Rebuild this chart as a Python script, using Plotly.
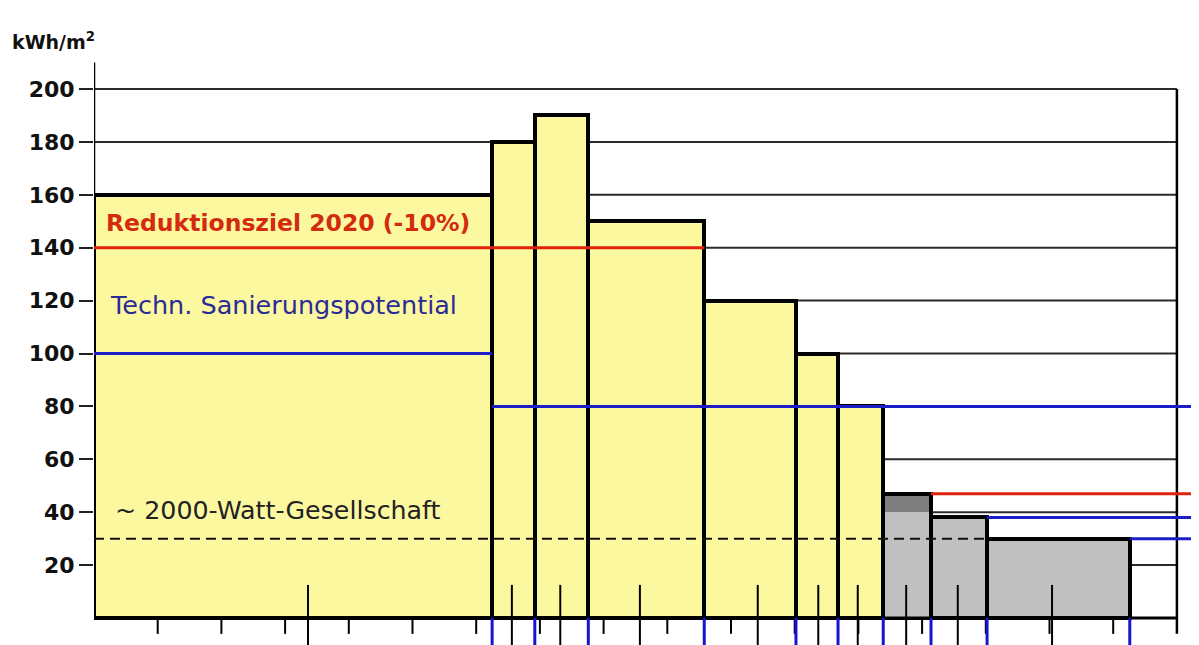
import plotly.graph_objects as go

# ---- data (x in tick units: 10 per small tick interval) ----
bar_edges = [0, 62.5, 69.2, 77.6, 95.8, 110.2, 116.8, 123.9, 131.4, 140.2, 162.6]
bar_values = [160, 180, 190, 150, 120, 100, 80, 47, 38, 30]
bar_colors = ["#FCF8A0"] * 7 + ["#7F7F7F", "#C0C0C0", "#C0C0C0"]
grey_base_value = 40          # light part of the 8th bar
grid_values = [20, 40, 60, 80, 100, 120, 140, 160, 180, 200]
ytick_labels = ["20", "40", "60", "80", "100", "120", "140", "160", "180", "200"]
minor_ticks = [10, 20, 30, 40, 50, 60, 70, 80, 90, 100, 110, 120, 130, 140, 150, 160]
long_ticks = [33.6, 65.6, 73.2, 85.7, 104.2, 113.7, 119.9, 127.5, 135.6, 150.4]
x_end = 170

# target lines: (value, x start, x end)
red_lines = [(140, 0, 95.8), (47, 131.4, None)]
blue_lines = [(100, 0, 62.5), (80, 62.5, None), (38, 140.2, None), (30, 162.6, None)]
dashed_line = (30, 0, 140.2)

labels = [
    ("Reduktionsziel 2020 (-10%)", 1.6, 149.5, "#D42A0E", True, 23.5),
    ("Techn. Sanierungspotential", 2.2, 118.5, "#2B2B95", False, 25.5),
    ("~ 2000-Watt-Gesellschaft", 3.0, 40.5, "#222222", False, 25.3),
]

# ---- geometry (page body has an 8px offset) ----
OFF = 8
PX_PER_X = 6.37
PX_PER_Y = 2.645
L_MARGIN = 94 - OFF
X_MAX = (1199 - L_MARGIN) / PX_PER_X
Y_MAX = 200 + (89 - OFF) / PX_PER_Y
Y_MIN = -(645 - (618 - OFF)) / PX_PER_Y

mids = [(a + b) / 2 for a, b in zip(bar_edges[:-1], bar_edges[1:])]
widths = [b - a for a, b in zip(bar_edges[:-1], bar_edges[1:])]

fig = go.Figure()
fig.add_trace(go.Bar(
    x=mids, y=bar_values, width=widths,
    marker=dict(color=bar_colors, line=dict(color="black", width=4)),
    hoverinfo="skip", showlegend=False))
# light grey lower part of the 8th bar
fig.add_trace(go.Bar(
    x=[mids[7]], y=[grey_base_value], width=[widths[7] - 0.6],
    marker=dict(color="#C0C0C0", line=dict(width=0)),
    hoverinfo="skip", showlegend=False))

shapes = []
for g in grid_values:
    shapes.append(dict(type="line", xref="x", yref="y", x0=0, x1=x_end, y0=g, y1=g,
                       line=dict(color="#2a2a2a", width=2), layer="below"))
shapes.append(dict(type="line", x0=0, x1=0, y0=0, y1=210, line=dict(color="black", width=2.5)))
shapes.append(dict(type="line", x0=x_end, x1=x_end, y0=200, y1=-6, line=dict(color="black", width=2.5)))
shapes.append(dict(type="line", x0=0, x1=x_end, y0=0, y1=0, line=dict(color="black", width=3)))
for t in minor_ticks:
    shapes.append(dict(type="line", x0=t, x1=t, y0=0, y1=-6, line=dict(color="black", width=2)))
for t in long_ticks:
    shapes.append(dict(type="line", x0=t, x1=t, y0=12.5, y1=Y_MIN, line=dict(color="black", width=2)))
for e in bar_edges[1:]:
    shapes.append(dict(type="line", x0=e, x1=e, y0=0, y1=Y_MIN, line=dict(color="#1515D0", width=3)))
v, a, b = dashed_line
shapes.append(dict(type="line", x0=a, x1=b, y0=v, y1=v, line=dict(color="#111111", width=2, dash="10px,6px")))
for v, a, b in red_lines:
    shapes.append(dict(type="line", x0=a, x1=(X_MAX if b is None else b), y0=v, y1=v,
                       line=dict(color="#E0220C", width=3)))
for v, a, b in blue_lines:
    shapes.append(dict(type="line", x0=a, x1=(X_MAX if b is None else b), y0=v, y1=v,
                       line=dict(color="#1C1CC8", width=3)))

annotations = []
for txt, x, y, col, bold, size in labels:
    annotations.append(dict(
        text=txt, x=x, y=y, xref="x", yref="y",
        xanchor="left", yanchor="middle", showarrow=False,
        font=dict(family="DejaVu Sans", size=size, color=col, weight="bold" if bold else "normal")))
annotations.append(dict(
    text="kWh/m<sup>2</sup>", x=(10 - 94) / (1199 - L_MARGIN), y=218, xref="paper", yref="y",
    xanchor="left", yanchor="middle", showarrow=False,
    font=dict(family="DejaVu Sans", size=19, color="#111111", weight="bold")))

fig.update_layout(
    width=1199, height=645,
    margin=dict(l=L_MARGIN, r=0, t=0, b=0),
    paper_bgcolor="white", plot_bgcolor="white",
    barmode="overlay", bargap=0,
    shapes=shapes, annotations=annotations,
    xaxis=dict(range=[0, X_MAX], showgrid=False, zeroline=False, showline=False,
               showticklabels=False, ticks="", fixedrange=True),
    yaxis=dict(range=[Y_MIN, Y_MAX], showgrid=False, zeroline=False, showline=False,
               tickmode="array", tickvals=grid_values, ticktext=ytick_labels,
               ticks="outside", ticklen=14, tickwidth=2, tickcolor="#222222",
               tickfont=dict(family="DejaVu Sans", size=22, color="#111111", weight="bold"),
               automargin=False, fixedrange=True),
    font=dict(family="DejaVu Sans"),
)

fig.write_html("out.html")
